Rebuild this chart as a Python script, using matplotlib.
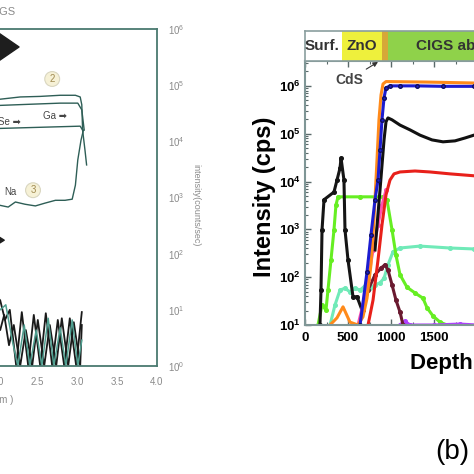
"""
Two-panel SIMS depth profile of a CIGS cell (cropped view).
(a) faint scan on the left, (b) coloured profile on the right.
"""
import matplotlib
matplotlib.use("Agg")
import matplotlib.pyplot as plt
import numpy as np
from matplotlib.ticker import LogLocator, FixedLocator, FuncFormatter, NullFormatter, MultipleLocator

plt.rcParams["font.family"] = ["Liberation Sans", "DejaVu Sans"]
plt.rcParams["mathtext.fontset"] = "custom"
plt.rcParams["mathtext.rm"] = "Liberation Sans"
plt.rcParams["mathtext.bf"] = "Liberation Sans:bold"

# ── panel (a): depth (um) vs log10(counts/sec) ─────────────────────────────
A_X = [1.66, 2.04, 2.29, 2.54, 2.79, 2.98, 3.04, 3.06, 3.07, 3.10, 3.12]
A_LOG = [4.73, 4.75, 4.79, 4.80, 4.82, 4.82, 4.79, 4.65, 4.20, 3.84, 3.58]
B_X = [1.66, 2.04, 2.41, 2.79, 3.01, 3.06, 3.09]
B_LOG = [4.63, 4.64, 4.66, 4.68, 4.68, 4.56, 4.20]
C_X = [1.66, 2.04, 2.54, 3.04, 3.07]
C_LOG = [4.23, 4.23, 4.25, 4.27, 4.20]
NA_X = [1.66, 2.04, 2.14, 2.23, 2.35, 2.48, 2.60, 2.73, 2.85, 2.94, 2.98, 3.01, 3.05, 3.08]
NA_LOG = [2.95, 2.86, 2.83, 2.92, 2.88, 2.85, 2.90, 2.95, 2.95, 2.97, 3.22, 3.67, 4.02, 4.20]

N1_X = [1.95, 2.04, 2.10, 2.16, 2.24, 2.31, 2.39, 2.46, 2.54, 2.61, 2.69, 2.76, 2.84, 2.91, 2.99, 3.06]
N1_LOG = [1.30, 1.17, 0.82, 1.0, 0, 0.96, 0, 0.91, 0, 0.94, 0, 0.82, 0, 0.85, 0, 0.96]
N2_X = [1.95, 2.04, 2.09, 2.15, 2.21, 2.29, 2.36, 2.44, 2.51, 2.59, 2.66, 2.74, 2.81, 2.89, 2.96, 3.04, 3.06]
N2_LOG = [0.9, 0.64, 0.91, 0.37, 0.73, 0, 0.64, 0, 0.82, 0, 0.73, 0, 0.85, 0, 0.78, 0, 0.73]
N3_X = [1.95, 2.04, 2.11, 2.19, 2.26, 2.34, 2.41, 2.49, 2.56, 2.64, 2.71, 2.79, 2.86, 2.94, 3.01, 3.06]
N3_LOG = [1.2, 1.0, 1.09, 0.46, 0, 0.73, 0, 0.64, 0, 0.85, 0, 0.68, 0, 0.82, 0, 0.46]

A_XTICKS = [0, 0.5, 1.0, 1.5, 2.0, 2.5, 3.0, 3.5, 4.0]

# ── panel (b): depth (nm) vs log10(cps) ────────────────────────────────────
ORANGE_D = [291, 372, 442, 523, 616, 674, 721, 767, 802, 837, 860, 884, 907, 942, 1400, 1965, 2600]
ORANGE_LOG = [1.0, 1.15, 1.38, 1.06, 1.0, 1.17, 1.56, 2.26, 3.20, 4.45, 5.29, 5.81, 6.04, 6.09, 6.08, 6.06, 6.06]
BLUE_D = [640, 721, 767, 814, 849, 872, 895, 919, 942, 988, 1100, 1300, 1600, 1965, 2600]
BLUE_LOG = [1.0, 2.11, 2.88, 3.62, 4.03, 4.66, 5.29, 5.75, 5.96, 6.0, 6.0, 6.0, 5.99, 5.99, 5.98]
BLACK_D = [814, 872, 919, 942, 965, 1012, 1105, 1221, 1337, 1477, 1605, 1744, 1860, 1965, 2151, 2600]
BLACK_LOG = [2.57, 3.82, 4.87, 5.25, 5.33, 5.29, 5.18, 5.08, 4.97, 4.87, 4.83, 4.85, 4.91, 4.97, 5.01, 5.02]
ZN_D = [174, 186, 198, 221, 337, 372, 407, 419, 453, 465, 500, 558, 605, 663]
ZN_LOG = [1.0, 1.73, 2.99, 3.62, 3.78, 4.03, 4.28, 4.49, 4.03, 2.99, 2.36, 1.59, 1.59, 1.31]
RED_D = [733, 791, 849, 895, 942, 988, 1035, 1105, 1279, 1453, 1686, 1965, 2600]
RED_LOG = [1.0, 1.52, 2.36, 3.09, 3.72, 4.03, 4.16, 4.20, 4.22, 4.20, 4.16, 4.12, 4.10]
PINK_D = [616, 674, 733, 791, 849, 895, 942]
PINK_LOG = [1.0, 1.42, 1.94, 2.57, 3.09, 3.51, 3.82]
CDS_D = [674, 733, 814, 884, 930, 965, 1012, 1058, 1105, 1140]
CDS_LOG = [1.31, 1.73, 2.05, 2.19, 2.26, 2.15, 1.84, 1.52, 1.27, 1.0]
GREEN_D = [151, 198, 244, 267, 302, 337, 360, 384, 640, 907, 953, 1012, 1058, 1105, 1186, 1279, 1372, 1419, 1488, 1570, 1651]
GREEN_LOG = [1.0, 1.42, 1.31, 1.73, 2.36, 2.99, 3.51, 3.68, 3.68, 3.68, 3.62, 2.99, 2.46, 2.05, 1.79, 1.67, 1.56, 1.36, 1.19, 1.06, 1.0]
AQUA_D = [291, 349, 407, 465, 523, 581, 640, 698, 756, 814, 872, 919, 965, 1023, 1105, 1337, 1686, 1965, 2600]
AQUA_LOG = [1.0, 1.42, 1.73, 1.77, 1.69, 1.77, 1.73, 1.82, 1.77, 1.84, 1.88, 1.98, 2.26, 2.53, 2.61, 2.65, 2.61, 2.59, 2.58]
PURPLE_D = [1100, 1163, 1220, 1500, 1800, 2000]
PURPLE_LOG = [1.0, 1.08, 1.0, 1.0, 1.02, 1.0]

LAYERS = [("Surf.", 0, 430, "white"), ("ZnO", 430, 895, "#eef03c"),
          ("", 895, 965, "#d6a838"), ("CIGS absorber", 965, 2600, "#8fd24a")]
B_XTICKS = [0, 500, 1000, 1500]


def main():
    fig = plt.figure(figsize=(4.74, 4.74), dpi=100)
    W = 474.0

    # ================= panel (a) =================
    ax_a = fig.add_axes([-163 / W, (474 - 366) / W, 320 / W, 337 / W])
    ax_a.set_xlim(0, 4)
    ax_a.set_yscale("log")
    ax_a.set_ylim(1, 1e6)
    line_c = "#2e5e56"
    for xs, ls in [(A_X, A_LOG), (B_X, B_LOG), (C_X, C_LOG), (NA_X, NA_LOG)]:
        ax_a.plot(xs, 10 ** np.array(ls), color=line_c, lw=1.0)
    ax_a.plot(N1_X, 10 ** np.array(N1_LOG), color="#1a1a1a", lw=1.3)
    ax_a.plot(N2_X, 10 ** np.array(N2_LOG), color="#1a1a1a", lw=1.3)
    ax_a.plot(N3_X, 10 ** np.array(N3_LOG), color="#4f9f90", lw=1.1)

    # arrows and labels
    ax_a.annotate("", xy=(2.31, 10 ** 5.68), xytext=(1.5, 10 ** 5.68),
                  arrowprops=dict(arrowstyle="simple,head_length=0.8,head_width=1.1,tail_width=0.6",
                                  color="#1e1e1e", mutation_scale=20))
    ax_a.annotate("", xy=(2.125, 10 ** 2.24), xytext=(1.8, 10 ** 2.24),
                  arrowprops=dict(arrowstyle="simple,head_length=0.8,head_width=1.0,tail_width=0.5",
                                  color="#1e1e1e", mutation_scale=8))
    ax_a.text(2.58, 10 ** 4.45, "Ga ➡", fontsize=7, color="#444", va="center", ha="left")
    ax_a.text(2.30, 10 ** 4.34, "Se ➡", fontsize=7, color="#444", va="center", ha="right")
    ax_a.text(2.17, 10 ** 3.10, "Na", fontsize=7, color="#444", va="center", ha="center")
    circ = dict(boxstyle="circle,pad=0.25", fc="#f6f1d6", ec="#d9d6c0", lw=0.8)
    ax_a.text(2.69, 10 ** 5.11, "2", fontsize=7, color="#a08a50", ha="center", va="center", bbox=circ)
    ax_a.text(2.45, 10 ** 3.13, "3", fontsize=7, color="#a08a50", ha="center", va="center", bbox=circ)

    ax_a.xaxis.set_major_locator(FixedLocator(A_XTICKS))
    ax_a.xaxis.set_major_formatter(FuncFormatter(lambda v, p: f"{v:.1f}"))
    ax_a.yaxis.set_major_locator(LogLocator(base=10, numticks=10))
    ax_a.yaxis.set_minor_formatter(NullFormatter())
    ax_a.yaxis.tick_right()
    ax_a.tick_params(axis="both", which="both", length=0, labelsize=7, labelcolor="#8a8a8a", pad=8)
    for s in ax_a.spines.values():
        s.set_color("#4a7a70")
        s.set_linewidth(1.3)
    fig.text(16 / W, 1 - 12 / W, "CIGS", fontsize=8, color="#8a8a8a", ha="right", va="center")
    fig.text(13 / W, 1 - 400 / W, "Depth ( μm )", fontsize=7, color="#8a8a8a", ha="right", va="center")
    fig.text(196 / W, 1 - 205 / W, "intensity(counts/sec)", fontsize=6.5, color="#8a8a8a",
             rotation=270, ha="center", va="center")

    # ================= panel (b) =================
    xmax = 2600
    wb = xmax * 0.086 / W
    ax_b = fig.add_axes([305 / W, (474 - 325) / W, wb, 264 / W])
    ax_h = fig.add_axes([305 / W, (474 - 61) / W, wb, 30 / W])

    for name, x0, x1, col in LAYERS:
        ax_h.axvspan(x0, x1, color=col, lw=0)
    ax_h.set_xlim(0, xmax)
    ax_h.set_ylim(0, 1)
    ax_h.set_xticks([])
    ax_h.set_yticks([])
    ax_h.text(200, 0.5, "Surf.", fontsize=11, fontweight="bold", color="#333", ha="center", va="center")
    ax_h.text(665, 0.5, "ZnO", fontsize=11, fontweight="bold", color="#333", ha="center", va="center")
    ax_h.text(1290, 0.5, "CIGS absorber", fontsize=11, fontweight="bold", color="#333", ha="left", va="center")
    for s in ax_h.spines.values():
        s.set_color("#8a9e9e")
        s.set_linewidth(1.2)

    ax_b.set_xlim(0, xmax)
    ax_b.set_yscale("log")
    ax_b.set_ylim(10, 10 ** 6.52)
    series = [
        (AQUA_D, AQUA_LOG, "#70eab8", "o"),
        (GREEN_D, GREEN_LOG, "#66ee22", "o"),
        (PURPLE_D, PURPLE_LOG, "#b040ff", "o"),
        (ZN_D, ZN_LOG, "#151515", "o"),
        (CDS_D, CDS_LOG, "#6a1a30", "o"),
        (PINK_D, PINK_LOG, "#ff50b0", "o"),
        (RED_D, RED_LOG, "#e8201a", None),
        (BLACK_D, BLACK_LOG, "#111111", None),
        (ORANGE_D, ORANGE_LOG, "#ff8a1a", None),
        (BLUE_D, BLUE_LOG, "#1c1cd0", "o"),
    ]
    for d, lg, col, mk in series:
        ax_b.plot(d, 10 ** np.array(lg), color=col, lw=2.2, marker=mk, ms=2.6,
                  mec=col if col not in ("#1c1cd0",) else "#101060")

    ax_b.annotate("CdS", xy=(849, 10 ** 6.50), xytext=(512, 10 ** 6.13),
                  fontsize=10, fontweight="bold", color="#444", ha="center", va="center",
                  arrowprops=dict(arrowstyle="-|>", color="#333", lw=0.8, mutation_scale=7,
                                  shrinkA=1, shrinkB=0))

    ax_b.xaxis.set_major_locator(FixedLocator(B_XTICKS))
    ax_b.xaxis.set_minor_locator(MultipleLocator(250))
    ax_b.yaxis.set_major_locator(LogLocator(base=10, numticks=10))
    ax_b.yaxis.set_minor_locator(LogLocator(base=10, subs=np.arange(2, 10), numticks=20))
    ax_b.yaxis.set_minor_formatter(NullFormatter())
    ax_b.yaxis.set_major_formatter(FuncFormatter(
        lambda v, p: r"$\mathbf{10^{%d}}$" % int(round(np.log10(v)))))
    ax_b.tick_params(axis="both", which="major", direction="in", length=4, width=1,
                     labelsize=9.5, top=True, color="#5a6a6a", pad=3)
    ax_b.tick_params(axis="both", which="minor", direction="in", length=2, width=0.8,
                     top=True, color="#5a6a6a")
    for lab in ax_b.get_xticklabels():
        lab.set_fontweight("bold")
    ax_b.tick_params(axis="x", pad=5)
    for s in ax_b.spines.values():
        s.set_color("#7f9696")
        s.set_linewidth(1.5)

    fig.text(265 / W, 1 - 197 / W, "Intensity (cps)", fontsize=17, fontweight="bold",
             rotation=90, ha="center", va="center")
    fig.text(410 / W, 1 - 364 / W, "Depth (nm)", fontsize=16, fontweight="bold",
             ha="left", va="center")
    fig.text(452 / W, 1 - 452 / W, "(b)", fontsize=20, ha="center", va="center")

    fig.savefig("out.png", dpi=100)


if __name__ == "__main__":
    main()
